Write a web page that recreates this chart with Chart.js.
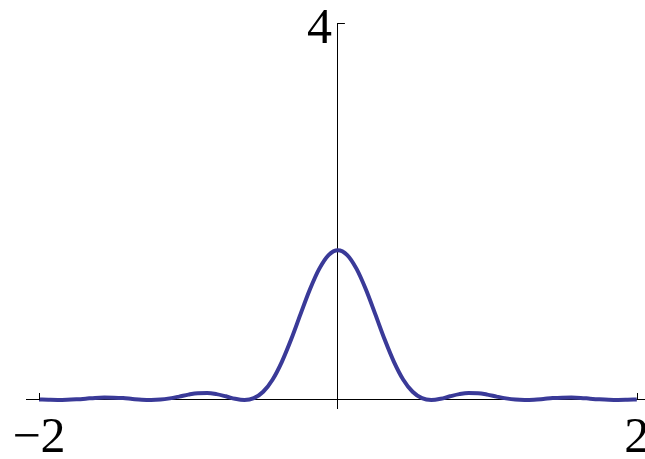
<!DOCTYPE html>
<html>
<head>
<meta charset="utf-8">
<script src="https://cdn.jsdelivr.net/npm/chart.js@4/dist/chart.umd.min.js"></script>
<style>
  html, body { margin: 0; padding: 0; background: #fff; }
  #wrap { width: 645px; height: 459px; position: relative; }
</style>
</head>
<body>
<div id="wrap"><canvas id="plot"></canvas></div>
<script>
// x samples of the curve
const xs = [
  -2, -1.9375, -1.875, -1.8125, -1.75, -1.6875, -1.625, -1.5625,
  -1.5, -1.4375, -1.375, -1.3125, -1.25, -1.1875, -1.125, -1.0625,
  -1, -0.9375, -0.875, -0.8125, -0.75, -0.6875, -0.625, -0.5625,
  -0.5, -0.4375, -0.375, -0.3125, -0.25, -0.1875, -0.125, -0.0625,
  0,
  0.0625, 0.125, 0.1875, 0.25, 0.3125, 0.375, 0.4375, 0.5,
  0.5625, 0.625, 0.6875, 0.75, 0.8125, 0.875, 0.9375, 1,
  1.0625, 1.125, 1.1875, 1.25, 1.3125, 1.375, 1.4375, 1.5,
  1.5625, 1.625, 1.6875, 1.75, 1.8125, 1.875, 1.9375, 2
];
// curve values
const ys = [
  0.005, 0.002, 0, 0.002, 0.007, 0.014, 0.022, 0.026,
  0.025, 0.020, 0.011, 0.003, 0, 0.004, 0.017, 0.036,
  0.057, 0.072, 0.074, 0.062, 0.039, 0.013, 0, 0.019,
  0.087, 0.215, 0.405, 0.644, 0.911, 1.172, 1.391, 1.538,
  1.59,
  1.538, 1.391, 1.172, 0.911, 0.644, 0.405, 0.215, 0.087,
  0.019, 0, 0.013, 0.039, 0.062, 0.074, 0.072, 0.057,
  0.036, 0.017, 0.004, 0, 0.003, 0.011, 0.020, 0.025,
  0.026, 0.022, 0.014, 0.007, 0.002, 0, 0.002, 0.005
];
const xTicks = [-2, 2];
const xTickLabels = ['\u22122', '2'];
const yTicks = [4];
const yTickLabels = ['4'];

const FONT = '50px "Liberation Serif", "Times New Roman", serif';

// tick marks (inward) and big labels, placed through the chart's own scales
const axisDecor = {
    id: 'axisDecor',
    afterDraw(chart) {
        const ctx = chart.ctx;
        const sx = chart.scales.x;
        const sy = chart.scales.y;
        const y0 = sy.getPixelForValue(0);
        const x0 = sx.getPixelForValue(0);
        ctx.save();
        ctx.strokeStyle = '#000';
        ctx.lineWidth = 1;
        ctx.fillStyle = '#000';
        ctx.font = FONT;
        ctx.textBaseline = 'alphabetic';

        xTicks.forEach((v, i) => {
            const px = Math.round(sx.getPixelForValue(v)) + 0.5;
            ctx.beginPath();
            ctx.moveTo(px, y0);
            ctx.lineTo(px, y0 - 7);
            ctx.stroke();
            ctx.textAlign = 'center';
            ctx.fillText(xTickLabels[i], sx.getPixelForValue(v), y0 + 52);
        });

        yTicks.forEach((v, i) => {
            const py = Math.round(sy.getPixelForValue(v)) + 0.5;
            ctx.beginPath();
            ctx.moveTo(x0, py);
            ctx.lineTo(x0 + 7, py);
            ctx.stroke();
            ctx.textAlign = 'right';
            ctx.fillText(yTickLabels[i], x0 - 6, py + 19);
        });
        ctx.restore();
    }
};

new Chart(document.getElementById('plot'), {
    type: 'scatter',
    data: {
        datasets: [{
            data: xs.map((x, i) => ({ x: x, y: ys[i] })),
            showLine: true,
            borderColor: '#3a3a98',
            borderWidth: 4,
            pointRadius: 0,
            cubicInterpolationMode: 'monotone',
            fill: false
        }]
    },
    options: {
        responsive: true,
        maintainAspectRatio: false,
        animation: false,
        layout: { padding: { left: 26, right: 0, top: 23, bottom: 51 } },
        plugins: {
            legend: { display: false },
            tooltip: { enabled: false }
        },
        scales: {
            x: {
                type: 'linear',
                min: -2.087,
                max: 2.055,
                position: { y: 0 },
                grid: { display: false },
                border: { display: true, color: '#000', width: 1 },
                ticks: { display: false }
            },
            y: {
                type: 'linear',
                min: -0.085,
                max: 4,
                position: { x: 0 },
                grid: { display: false },
                border: { display: true, color: '#000', width: 1 },
                ticks: { display: false }
            }
        }
    },
    plugins: [axisDecor]
});
</script>
</body>
</html>
